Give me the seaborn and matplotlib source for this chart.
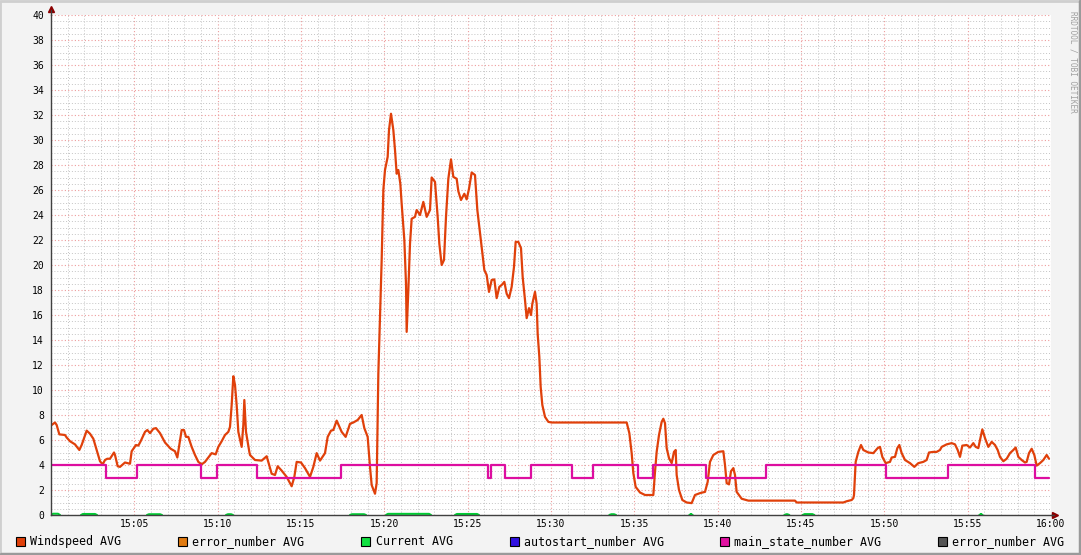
import numpy as np
import pandas as pd
import matplotlib
matplotlib.use("Agg")
import matplotlib.pyplot as plt
import seaborn as sns
from matplotlib.lines import Line2D
from matplotlib.patches import Rectangle
from matplotlib.ticker import MultipleLocator, FixedLocator

# minutes after 15:00
wind_t = [0.04, 0.24, 0.34, 0.50, 0.84, 0.94, 1.14, 1.44, 1.70, 1.84, 2.14, 2.34, 2.54, 2.74, 2.94,
          3.10, 3.24, 3.38, 3.54, 3.78, 3.84, 4.00, 4.14, 4.44, 4.74, 4.84, 5.10, 5.24, 5.38, 5.64,
          5.78, 5.94, 6.14, 6.30, 6.54, 6.84, 7.18, 7.44, 7.58, 7.70, 7.84, 7.98, 8.10, 8.24, 8.44,
          8.64, 8.84, 9.04, 9.24, 9.44, 9.64, 9.88, 10.04, 10.24, 10.44, 10.64, 10.74, 10.84, 10.94,
          11.04, 11.14, 11.24, 11.44, 11.54, 11.60, 11.70, 11.90, 11.94, 12.24, 12.64, 12.94, 13.24,
          13.44, 13.60, 13.84, 14.14, 14.44, 14.60, 14.74, 15.00, 15.24, 15.54, 15.74, 15.94, 16.14,
          16.44, 16.60, 16.80, 16.94, 17.14, 17.44, 17.68, 17.94, 18.14, 18.40, 18.64, 18.80, 19.00,
          19.14, 19.24, 19.44, 19.54, 19.64, 19.74, 19.84, 19.94, 20.04, 20.20, 20.28, 20.40, 20.54,
          20.64, 20.74, 20.84, 20.96, 21.04, 21.20, 21.30, 21.34, 21.44, 21.54, 21.64, 21.84, 21.94,
          22.14, 22.34, 22.54, 22.74, 22.84, 23.04, 23.20, 23.30, 23.44, 23.58, 23.70, 23.84, 24.00,
          24.14, 24.34, 24.44, 24.60, 24.80, 24.94, 25.08, 25.24, 25.44, 25.58, 25.70, 25.84, 26.00,
          26.14, 26.28, 26.44, 26.60, 26.74, 26.90, 27.04, 27.20, 27.34, 27.48, 27.64, 27.78, 27.88,
          28.04, 28.20, 28.30, 28.44, 28.54, 28.68, 28.80, 28.88, 29.04, 29.14, 29.20, 29.30, 29.38,
          29.48, 29.64, 29.84, 30.04, 34.54, 34.70, 34.84, 34.94, 35.08, 35.34, 35.64, 36.14, 36.24,
          36.34, 36.48, 36.64, 36.74, 36.84, 36.94, 37.08, 37.24, 37.38, 37.48, 37.54, 37.68, 37.88,
          38.14, 38.44, 38.64, 38.94, 39.24, 39.40, 39.54, 39.74, 40.04, 40.34, 40.44, 40.54, 40.68,
          40.80, 40.94, 41.04, 41.14, 41.44, 41.84, 44.64, 44.74, 47.54, 47.74, 48.04, 48.14, 48.18,
          48.28, 48.44, 48.60, 48.74, 49.04, 49.34, 49.60, 49.74, 49.88, 50.08, 50.34, 50.44, 50.64,
          50.78, 50.90, 51.04, 51.24, 51.54, 51.80, 52.04, 52.34, 52.54, 52.68, 52.94, 53.14, 53.34,
          53.44, 53.74, 54.04, 54.24, 54.40, 54.54, 54.68, 54.94, 55.14, 55.34, 55.48, 55.64, 55.74,
          55.88, 56.04, 56.24, 56.44, 56.64, 56.80, 56.94, 57.14, 57.34, 57.54, 57.74, 57.88, 58.04,
          58.24, 58.44, 58.54, 58.68, 58.84, 59.00, 59.14, 59.34, 59.54, 59.74, 59.88]
wind_v = [7.2, 7.4, 7.2, 6.45, 6.4, 6.2, 5.9, 5.65, 5.2, 5.6, 6.75, 6.5, 6.1, 5.2, 4.3,
          4.05, 4.4, 4.5, 4.5, 5.0, 4.8, 3.9, 3.85, 4.2, 4.1, 5.1, 5.6, 5.55, 5.9, 6.65,
          6.8, 6.55, 6.9, 6.95, 6.55, 5.8, 5.3, 5.1, 4.6, 5.6, 6.8, 6.8, 6.25, 6.25, 5.45,
          4.8, 4.25, 4.05, 4.25, 4.6, 4.95, 4.85, 5.45, 5.9, 6.4, 6.65, 7.05, 8.8, 11.1,
          10.4, 8.8, 6.65, 5.45, 7.2, 9.2, 6.65, 5.05, 4.8, 4.4, 4.35, 4.7, 3.3,
          3.2, 3.9, 3.55, 3.05, 2.3, 3.05, 4.25, 4.2, 3.75, 3.05, 3.85, 4.95, 4.35,
          4.95, 6.25, 6.75, 6.8, 7.55, 6.65, 6.25, 7.3, 7.4, 7.6, 8.0, 6.95, 6.25,
          3.85, 2.4, 1.7, 2.55, 11.3, 15.9, 20.4, 26.0, 27.6, 28.65, 30.8, 32.1, 30.8,
          29.2, 27.3, 27.6, 26.5, 24.9, 22.0, 18.5, 14.65, 18.0, 21.7, 23.7, 23.85, 24.4,
          24.0, 25.05, 23.85, 24.4, 27.0, 26.65, 23.85, 21.7, 20.0, 20.4, 23.85, 26.9, 28.45,
          27.05, 26.9, 25.9, 25.2, 25.7, 25.25, 26.1, 27.4, 27.2, 24.4, 23.05, 21.45, 19.6,
          19.2, 17.85, 18.8, 18.85, 17.35, 18.25, 18.4, 18.65, 17.7, 17.35, 18.25, 19.85, 21.85,
          21.85, 21.35, 19.05, 17.2, 15.75, 16.55, 16.0, 16.9, 17.85, 16.9, 14.5, 12.65, 10.25,
          8.8, 7.85, 7.45, 7.4, 7.4, 6.55, 4.95, 3.35, 2.25, 1.8, 1.6, 1.6, 3.45,
          5.05, 6.4, 7.45, 7.7, 7.35, 5.35, 4.55, 4.15, 5.05, 5.2, 3.2, 2.0, 1.2,
          1.0, 0.95, 1.6, 1.75, 1.85, 2.65, 4.25, 4.8, 5.05, 5.1, 4.0, 2.55, 2.45,
          3.5, 3.75, 3.2, 1.85, 1.3, 1.15, 1.15, 1.0, 1.0, 1.1, 1.2, 1.35, 1.6,
          4.25, 5.05, 5.6, 5.2, 5.0, 4.95, 5.35, 5.45, 4.65, 4.15, 4.25, 4.6, 4.65,
          5.35, 5.6, 4.95, 4.4, 4.15, 3.85, 4.15, 4.25, 4.4, 5.0, 5.05, 5.05, 5.2,
          5.45, 5.65, 5.75, 5.65, 5.2, 4.65, 5.55, 5.6, 5.4, 5.75, 5.45, 5.35, 6.0,
          6.85, 6.15, 5.45, 5.85, 5.6, 5.2, 4.65, 4.3, 4.5, 4.95, 5.2, 5.4, 4.65,
          4.4, 4.2, 4.25, 4.95, 5.3, 4.8, 3.95, 4.15, 4.4, 4.8, 4.5]

state_t = [0.0, 3.30, 5.16, 8.98, 9.96, 12.34, 17.38, 26.20, 26.42, 27.24, 28.80, 31.28,
           32.50, 35.20, 36.14, 39.28, 42.88, 50.08, 53.84, 59.04, 59.9]
state_v = [4, 3, 4, 3, 4, 3, 4, 3, 4, 3, 4, 3, 4, 3, 4, 3, 4, 3, 4, 3, 3]

current_start = [0.0, 1.8, 5.76, 10.5, 17.94, 20.1, 24.24, 33.5, 38.3, 44.0, 45.1, 55.7]
current_end = [0.54, 2.76, 6.66, 10.92, 18.9, 22.8, 25.68, 33.9, 38.5, 44.3, 45.8, 55.9]
current_level = [0.1, 0.08, 0.06, 0.06, 0.06, 0.09, 0.08, 0.06, 0.06, 0.06, 0.07, 0.06]

x_ticks = list(range(5, 61, 5))
x_labels = ["15:05", "15:10", "15:15", "15:20", "15:25", "15:30",
            "15:35", "15:40", "15:45", "15:50", "15:55", "16:00"]

legend_labels = ["Windspeed AVG", "error_number AVG", "Current AVG",
                 "autostart_number AVG", "main_state_number AVG", "error_number AVG"]
legend_colors = ["#E0400A", "#E07A10", "#10E040", "#3010E0", "#E010A0", "#555555"]
legend_x = [15.5, 177.5, 361, 510, 720, 938]

W, H = 1081, 555
MONO = "DejaVu Sans Mono"

sns.set_style("white")
plt.rcParams["font.family"] = [MONO]

fig = plt.figure(figsize=(W / 100, H / 100), dpi=100, facecolor="#F3F3F3")
ax = fig.add_axes([51 / W, 40 / H, 1000 / W, 500 / H])
ax.set_facecolor("white")

# grid
ax.xaxis.set_minor_locator(MultipleLocator(1))
ax.yaxis.set_minor_locator(MultipleLocator(0.5))
ax.xaxis.set_major_locator(FixedLocator(x_ticks))
ax.yaxis.set_major_locator(MultipleLocator(2))
ax.grid(which="minor", color="#C4C4C4", linestyle=(0, (1, 2)), linewidth=0.7)
ax.grid(which="major", color="#EE9C9C", linestyle=(0, (1, 2)), linewidth=0.8)
ax.set_axisbelow(True)

# current bumps
cur_rows = []
for i, (s, e, lv) in enumerate(zip(current_start, current_end, current_level)):
    cur_rows += [(i, s, 0.0), (i, s + 0.12, lv), (i, e - 0.12, lv), (i, e, 0.0)]
cur_df = pd.DataFrame(cur_rows, columns=["bump", "t", "v"])
sns.lineplot(data=cur_df, x="t", y="v", units="bump", estimator=None, sort=False,
             color="#00CC33", linewidth=1.5, ax=ax)

wind_df = pd.DataFrame({"t": wind_t, "v": wind_v})
sns.lineplot(data=wind_df, x="t", y="v", estimator=None, sort=False,
             color="#E0400A", linewidth=1.6, ax=ax)

state_df = pd.DataFrame({"t": state_t, "v": state_v})
sns.lineplot(data=state_df, x="t", y="v", estimator=None, sort=False,
             color="#DD0EA0", linewidth=1.6, drawstyle="steps-post", ax=ax)

ax.set_xlim(0, 60)
ax.set_ylim(0, 40)
ax.set_xlabel("")
ax.set_ylabel("")
ax.set_xticklabels(x_labels)
ax.tick_params(which="both", length=0)
ax.tick_params(axis="x", pad=3, labelsize=7, colors="#000000")
ax.tick_params(axis="y", pad=5, labelsize=7, colors="#000000")

for side in ["top", "right"]:
    ax.spines[side].set_visible(False)
for side in ["left", "bottom"]:
    ax.spines[side].set_color("#404040")
    ax.spines[side].set_linewidth(1.0)
    ax.spines[side].set_zorder(5)

# axis arrows
ax.plot([0], [1.012], marker="^", color="#8B0000", ms=4, transform=ax.transAxes, clip_on=False)
ax.plot([1.004], [0], marker=">", color="#8B0000", ms=4, transform=ax.transAxes, clip_on=False)
ax.plot([0, 0], [1.0, 1.01], color="#404040", lw=1, transform=ax.transAxes, clip_on=False)
ax.plot([1.0, 1.003], [0, 0], color="#404040", lw=1, transform=ax.transAxes, clip_on=False)

# legend
for lab, col, lx in zip(legend_labels, legend_colors, legend_x):
    fig.patches.append(Rectangle((lx / W, 1 - 546 / H), 9 / W, 9 / H, transform=fig.transFigure,
                                 facecolor=col, edgecolor="#000000", linewidth=0.8))
    fig.text((lx + 14.5) / W, 1 - 541.5 / H, lab, ha="left", va="center",
             fontsize=8.4, family=MONO, color="#000000")

# watermark
fig.text(1073 / W, 1 - 62 / H, "RRDTOOL / TOBI OETIKER", rotation=270, ha="center", va="center",
         fontsize=5.6, family=MONO, color="#A0A0A0")

# 3D frame
fig.lines.append(Line2D([0, 0, W], [0, H - 1, H - 1], transform=None, color="#CFCFCF", lw=2))
fig.lines.append(Line2D([1, W - 1, W - 1], [1, 1, H - 1], transform=None, color="#9A9A9A", lw=2.5))

fig.savefig("out.png", dpi=100, facecolor=fig.get_facecolor())
